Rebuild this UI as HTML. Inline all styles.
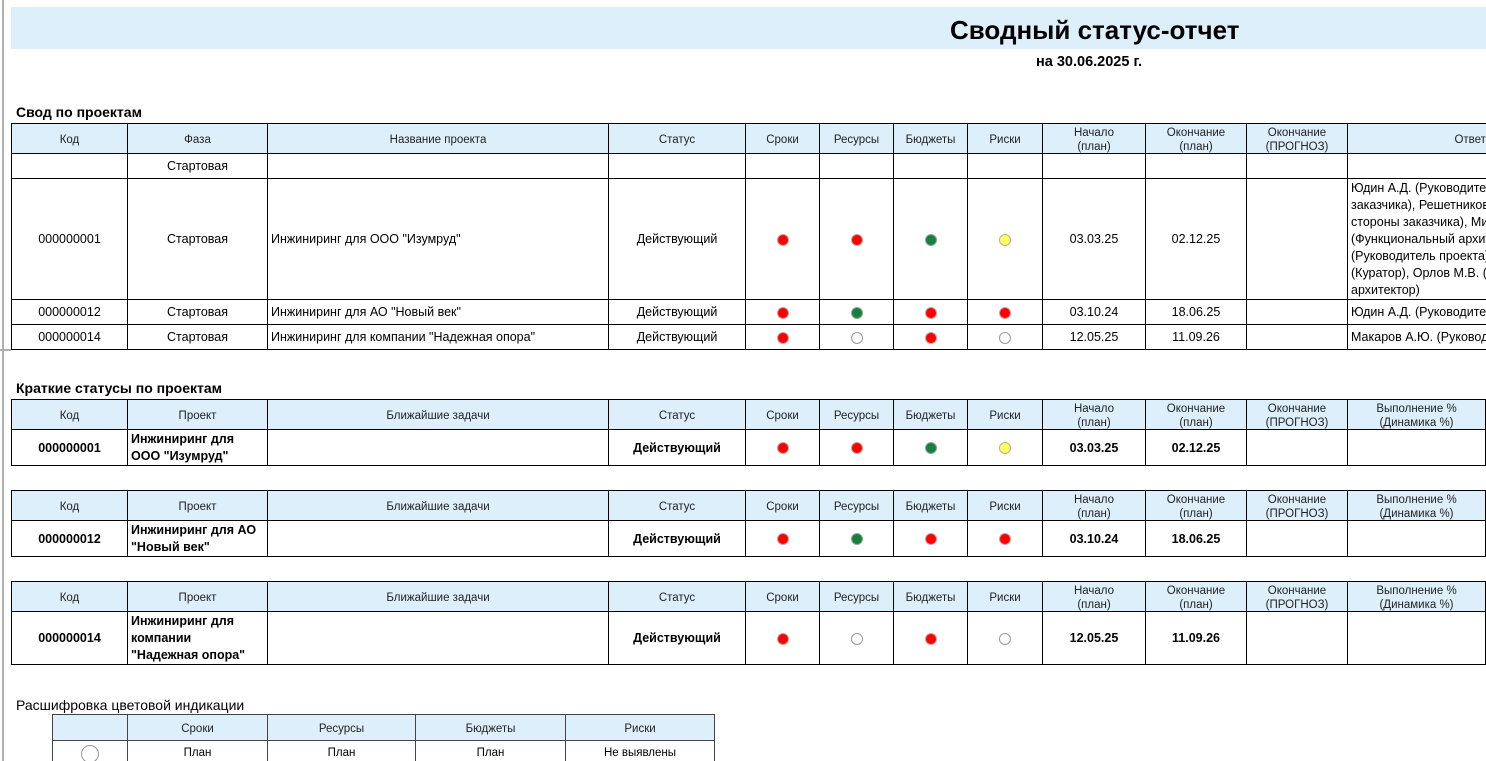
<!DOCTYPE html>
<html><head><meta charset="utf-8">
<style>
html,body{margin:0;padding:0;overflow:hidden;width:1486px;height:761px}
body{background:#fff;font-family:"Liberation Sans",sans-serif;color:#000}
#wrap{position:relative;width:1486px;height:761px;overflow:hidden}
.band{position:absolute;left:11px;top:7px;width:1475px;height:42px;background:#DEEFFC}
.t{position:absolute;white-space:nowrap}
.g{position:absolute;display:grid;background:#000;padding:1px;gap:1px}
.g>div{background:#fff;display:flex;align-items:center;justify-content:center;text-align:center;font-size:12.5px;line-height:17px;overflow:hidden;white-space:nowrap;padding-top:1px;box-sizing:border-box}
.g>div.h{background:#DEEFFC;font-size:11.5px;line-height:14px;color:#222;padding-top:2px}
.g>div.l{justify-content:flex-start;text-align:left;padding-left:3px}
.b{font-weight:bold}
.c{width:10px;height:10px;border-radius:50%;border:1px solid #999;box-sizing:content-box;display:block}
.r{background:#f00;border-color:#c9a0a0}
.gr{background:#17803d;border-color:#8aa894}
.y{background:#ffff66;border-color:#b8b38a}
.w{background:#fff;border-color:#999}
.t1{left:11px;top:123px;grid-template-columns:115px 139px 340px 136px 73px 73px 73px 74px 102px 100px 100px 295px;grid-template-rows:29px 24px 120px 24px 24px}
.t2{left:11px;grid-template-columns:115px 139px 340px 136px 73px 73px 73px 74px 102px 100px 100px 137px;grid-template-rows:29px 35px}
.lg{left:52px;top:714px;background:#444;grid-template-columns:74px 139px 147px 149px 148px;grid-template-rows:25px 24px}
.lg>div{font-size:11.5px!important}
.vl{position:absolute;left:2px;top:0;width:2px;height:761px;background:#b0b0b0}
.hs{position:absolute;left:0;top:349px;width:11px;height:2px;background:#b0b0b0}
</style></head><body><div id="wrap">
<div class="vl"></div><div class="hs"></div>
<div class="band"></div>
<div class="t b" style="left:950px;top:13px;font-size:26px;line-height:34px">Сводный статус-отчет</div>
<div class="t b" style="left:1036px;top:54px;font-size:14.5px;line-height:17px">на 30.06.2025 г.</div>

<div class="t b" style="left:16px;top:104px;font-size:14px;line-height:17px">Свод по проектам</div>
<div class="g t1">
<div class="h">Код</div><div class="h">Фаза</div><div class="h">Название проекта</div><div class="h">Статус</div><div class="h">Сроки</div><div class="h">Ресурсы</div><div class="h">Бюджеты</div><div class="h">Риски</div><div class="h">Начало<br>(план)</div><div class="h">Окончание<br>(план)</div><div class="h">Окончание<br>(ПРОГНОЗ)</div><div class="h">Ответственные</div>

<div></div><div>Стартовая</div><div></div><div></div><div></div><div></div><div></div><div></div><div></div><div></div><div></div><div></div>

<div>000000001</div><div>Стартовая</div><div class="l">Инжиниринг для ООО "Изумруд"</div><div>Действующий</div><div><span class="c r"></span></div><div><span class="c r"></span></div><div><span class="c gr"></span></div><div><span class="c y"></span></div><div>03.03.25</div><div>02.12.25</div><div></div><div class="l">Юдин А.Д. (Руководитель проекта со стороны<br>заказчика), Решетников И.П. (Куратор со<br>стороны заказчика), Михайлов С.Н.<br>(Функциональный архитектор), Юдин А.Д.<br>(Руководитель проекта), Петров В.А.<br>(Куратор), Орлов М.В. (Технический<br>архитектор)</div>

<div>000000012</div><div>Стартовая</div><div class="l">Инжиниринг для АО "Новый век"</div><div>Действующий</div><div><span class="c r"></span></div><div><span class="c gr"></span></div><div><span class="c r"></span></div><div><span class="c r"></span></div><div>03.10.24</div><div>18.06.25</div><div></div><div class="l">Юдин А.Д. (Руководитель проекта)</div>

<div>000000014</div><div>Стартовая</div><div class="l">Инжиниринг для компании "Надежная опора"</div><div>Действующий</div><div><span class="c r"></span></div><div><span class="c w"></span></div><div><span class="c r"></span></div><div><span class="c w"></span></div><div>12.05.25</div><div>11.09.26</div><div></div><div class="l">Макаров А.Ю. (Руководитель проекта)</div>
</div>

<div class="t b" style="left:16px;top:380px;font-size:14px;line-height:17px">Краткие статусы по проектам</div>

<div class="g t2" style="top:399px">
<div class="h">Код</div><div class="h">Проект</div><div class="h">Ближайшие задачи</div><div class="h">Статус</div><div class="h">Сроки</div><div class="h">Ресурсы</div><div class="h">Бюджеты</div><div class="h">Риски</div><div class="h">Начало<br>(план)</div><div class="h">Окончание<br>(план)</div><div class="h">Окончание<br>(ПРОГНОЗ)</div><div class="h">Выполнение %<br>(Динамика %)</div>
<div class="b">000000001</div><div class="l b">Инжиниринг для<br>ООО "Изумруд"</div><div></div><div class="b">Действующий</div><div><span class="c r"></span></div><div><span class="c r"></span></div><div><span class="c gr"></span></div><div><span class="c y"></span></div><div class="b">03.03.25</div><div class="b">02.12.25</div><div></div><div></div>
</div>

<div class="g t2" style="top:490px">
<div class="h">Код</div><div class="h">Проект</div><div class="h">Ближайшие задачи</div><div class="h">Статус</div><div class="h">Сроки</div><div class="h">Ресурсы</div><div class="h">Бюджеты</div><div class="h">Риски</div><div class="h">Начало<br>(план)</div><div class="h">Окончание<br>(план)</div><div class="h">Окончание<br>(ПРОГНОЗ)</div><div class="h">Выполнение %<br>(Динамика %)</div>
<div class="b">000000012</div><div class="l b">Инжиниринг для АО<br>"Новый век"</div><div></div><div class="b">Действующий</div><div><span class="c r"></span></div><div><span class="c gr"></span></div><div><span class="c r"></span></div><div><span class="c r"></span></div><div class="b">03.10.24</div><div class="b">18.06.25</div><div></div><div></div>
</div>

<div class="g t2" style="top:581px;grid-template-rows:29px 52px">
<div class="h">Код</div><div class="h">Проект</div><div class="h">Ближайшие задачи</div><div class="h">Статус</div><div class="h">Сроки</div><div class="h">Ресурсы</div><div class="h">Бюджеты</div><div class="h">Риски</div><div class="h">Начало<br>(план)</div><div class="h">Окончание<br>(план)</div><div class="h">Окончание<br>(ПРОГНОЗ)</div><div class="h">Выполнение %<br>(Динамика %)</div>
<div class="b">000000014</div><div class="l b">Инжиниринг для<br>компании<br>"Надежная опора"</div><div></div><div class="b">Действующий</div><div><span class="c r"></span></div><div><span class="c w"></span></div><div><span class="c r"></span></div><div><span class="c w"></span></div><div class="b">12.05.25</div><div class="b">11.09.26</div><div></div><div></div>
</div>

<div class="t" style="left:16px;top:697px;font-size:14px;line-height:17px">Расшифровка цветовой индикации</div>
<div class="g lg">
<div class="h"></div><div class="h">Сроки</div><div class="h">Ресурсы</div><div class="h">Бюджеты</div><div class="h">Риски</div>
<div><span style="display:block;width:16px;height:16px;border-radius:50%;border:1.5px solid #999"></span></div><div>План</div><div>План</div><div>План</div><div>Не выявлены</div>
</div>
</div></body></html>
